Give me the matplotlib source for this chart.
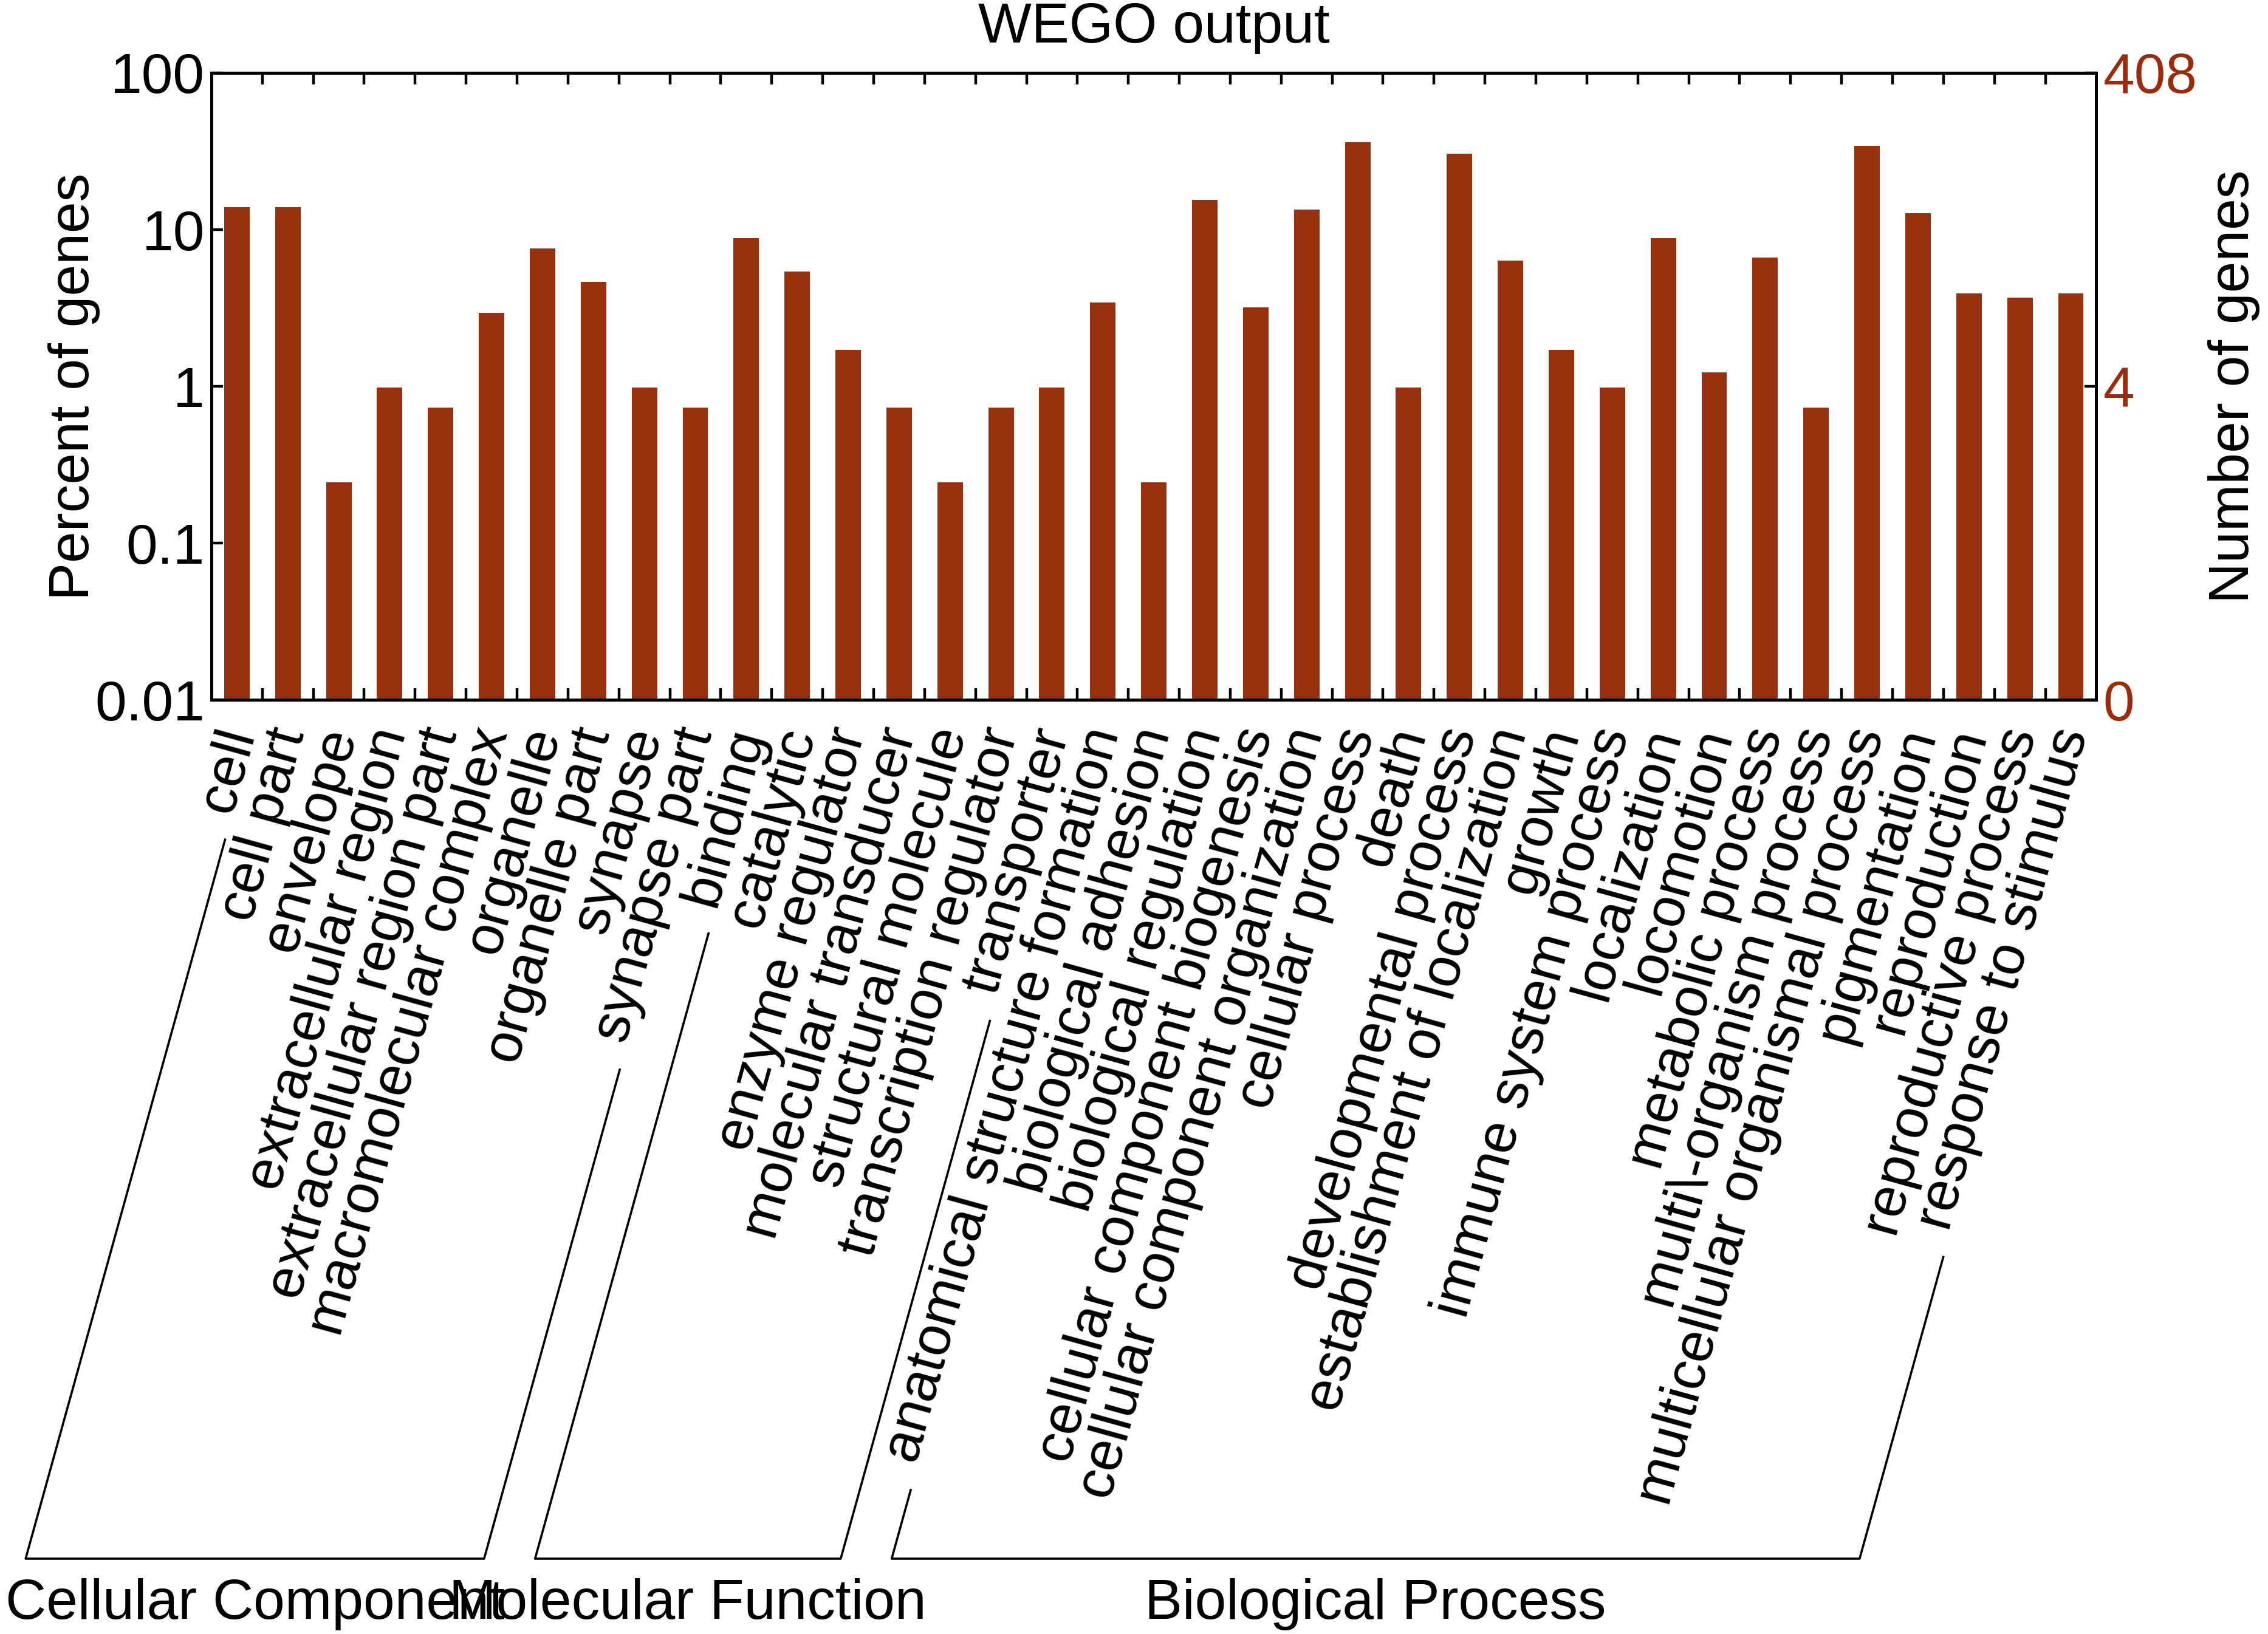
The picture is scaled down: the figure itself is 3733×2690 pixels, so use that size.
import numpy as np
import matplotlib
matplotlib.use("Agg")
import matplotlib.pyplot as plt
from matplotlib.lines import Line2D
from matplotlib.ticker import NullLocator
from matplotlib.transforms import blended_transform_factory, ScaledTranslation

plt.rcParams["font.family"] = ["Liberation Sans", "DejaVu Sans"]
FS = 33.5
plt.rcParams["font.size"] = FS

total_genes = 408

cc_terms = ["cell", "cell part", "envelope", "extracellular region",
            "extracellular region part", "macromolecular complex", "organelle",
            "organelle part", "synapse", "synapse part"]
cc_counts = [57, 57, 1, 4, 3, 12, 31, 19, 4, 3]

mf_terms = ["binding", "catalytic", "enzyme regulator", "molecular transducer",
            "structural molecule", "transcription regulator", "transporter"]
mf_counts = [36, 22, 7, 3, 1, 3, 4]

bp_terms = ["anatomical structure formation", "biological adhesion",
            "biological regulation", "cellular component biogenesis",
            "cellular component organization", "cellular process", "death",
            "developmental process", "establishment of localization", "growth",
            "immune system process", "localization", "locomotion",
            "metabolic process", "multi\\-organism process",
            "multicellular organismal process", "pigmentation", "reproduction",
            "reproductive process", "response to stimulus"]
bp_counts = [14, 1, 63, 13, 55, 147, 4, 124, 26, 7, 4, 36, 5, 27, 3, 140, 52,
             16, 15, 16]

group_names = ["Cellular Component", "Molecular Function", "Biological Process"]
group_terms = [cc_terms, mf_terms, bp_terms]
group_counts = [cc_counts, mf_counts, bp_counts]

left_ticks = [0.01, 0.1, 1, 10, 100]
left_ticklabels = ["0.01", "0.1", "1", "10", "100"]
right_ticks = [0.01, 1, 100]

bar_color = "#98320e"
num_color = "#9a2c0c"

terms = [t for g in group_terms for t in g]
counts = np.array([c for g in group_counts for c in g])
percent = counts / total_genes * 100
x = np.arange(len(terms))

dpi = 200
fig = plt.figure(figsize=(3733 / dpi, 2690 / dpi), dpi=dpi)
ax = fig.add_axes([0.0932, 0.5716, 0.8311, 0.3838])

ax.set_yscale("log", nonpositive="clip")
ax.bar(x, percent, width=0.5, color=bar_color, linewidth=0)
ax.set_xlim(-0.5, len(terms) - 0.5)
ax.set_ylim(0.01, 100)

ax.set_yticks(left_ticks, left_ticklabels)
ax.yaxis.set_minor_locator(NullLocator())
ax.set_xticks([])
ax.set_xticks(x[:-1] + 0.5, minor=True)
ax.tick_params(which="both", direction="in", top=True, right=False,
               length=7, width=1.6)
ax.tick_params(axis="y", pad=4)
for sp in ax.spines.values():
    sp.set_linewidth(1.7)

ax.set_title("WEGO output", fontsize=FS, pad=18)
ax.set_ylabel("Percent of genes", va="center")
ax.yaxis.set_label_coords(-0.0729, 0.5)

ax2 = ax.twinx()
ax2.set_yscale("log")
ax2.set_ylim(ax.get_ylim())
ax2.set_yticks(right_ticks, [str(round(total_genes * p / 100)) for p in right_ticks])
ax2.yaxis.set_minor_locator(NullLocator())
ax2.tick_params(direction="in", length=7, width=1.6, labelcolor=num_color, pad=4)
for sp in ax2.spines.values():
    sp.set_linewidth(1.7)
ax2.set_ylabel("Number of genes", va="center")
ax2.yaxis.set_label_coords(1.0729, 0.5)

# rotated category labels under each bar
angle = 74.5
label_pad = 17.3  # points below the axis
trans = blended_transform_factory(ax.transData, ax.transAxes) + \
    ScaledTranslation(0.02, -label_pad / 72, fig.dpi_scale_trans)
labels = []
for i, term in enumerate(terms):
    t = ax.text(i, 0, term, transform=trans, rotation=angle,
                rotation_mode="anchor", ha="right", va="center")
    labels.append(t)

# group brackets
fig.canvas.draw()
renderer = fig.canvas.get_renderer()
em = FS * dpi / 72
u = np.array([np.cos(np.radians(angle)), np.sin(np.radians(angle))])
n = np.array([-u[1], u[0]])
y_bracket = 0.0461 * fig.bbox.height
to_fig = fig.transFigure.inverted()


def line_ends(idx):
    t = labels[idx]
    w = renderer.get_text_width_height_descent(t.get_text(), t.get_fontproperties(), ismath=False)[0]
    p = np.array(trans.transform((idx, 0)))
    top = p - (w + 0.45 * em) * u - 0.28 * em * n
    bottom = top - (top[1] - y_bracket) / u[1] * u
    return top, bottom


start = 0
for name, g in zip(group_names, group_terms):
    first, last = start, start + len(g) - 1
    t1, b1 = line_ends(first)
    t2, b2 = line_ends(last)
    pts = to_fig.transform(np.array([t1, b1, b2, t2]))
    fig.add_artist(Line2D(pts[:, 0], pts[:, 1], transform=fig.transFigure,
                          color="black", linewidth=1.3))
    fig.text((pts[1, 0] + pts[2, 0]) / 2, 0.0093, name, ha="center", va="baseline")
    start += len(g)

fig.savefig("out.png", dpi=dpi)
